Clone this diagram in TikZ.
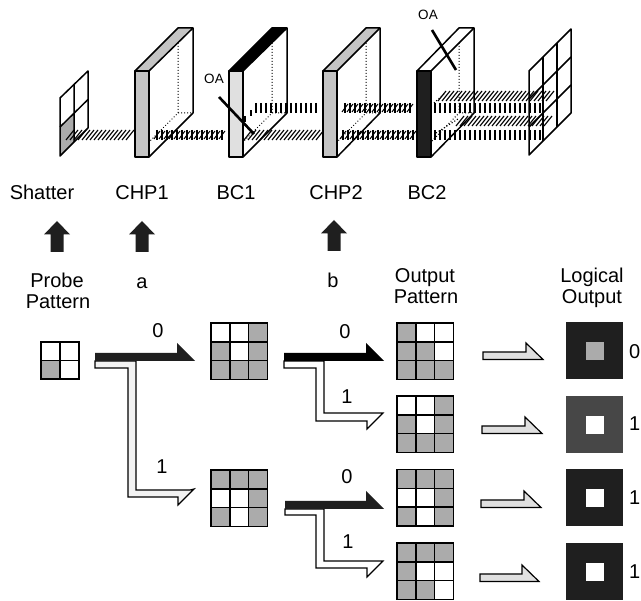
\documentclass[tikz,border=0pt]{standalone}
\usepackage{fontspec}
\setmainfont{Liberation Sans}
\definecolor{stip}{gray}{0.67}
\definecolor{stipf}{gray}{0.77}
\definecolor{stipl}{gray}{0.88}
\definecolor{stipw}{gray}{0.95}
\definecolor{dark}{gray}{0.12}
\newcommand{\hatchS}[3]{\foreach \hx in {#1,\the\numexpr#1+4\relax,...,#2}{\draw[line width=1.1pt] (\hx-4,#3+5) -- (\hx+4,#3-5);}}
\newcommand{\hatchB}[3]{\foreach \hx in {#1,\the\numexpr#1+5\relax,...,#2}{\draw[line width=1.9pt] (\hx,#3-5) -- (\hx,#3+5);}}
\newcommand{\hatchD}[3]{\foreach \hx in {#1,\the\numexpr#1+5\relax,...,#2}{\draw[line width=1.2pt] (\hx,#3-5) -- (\hx,#3+5); \draw[line width=1pt] (\hx-3,#3+4) -- (\hx+3,#3-4);}}
% grid: x y cells (column/row gray cells)
\newcommand{\gridT}[3]{%
 \begin{scope}[shift={(#1,#2)}]
 \fill[white] (0,0) rectangle (56.5,56.5);
 \foreach \cc/\rr in {#3}{\fill[stip] (\cc*18.83,\rr*18.83) rectangle ++(18.83,18.83);}
 \draw[cellline] (0,0) rectangle (56.5,56.5);
 \draw[cellline] (18.83,0) -- (18.83,56.5) (37.67,0) -- (37.67,56.5) (0,18.83) -- (56.5,18.83) (0,37.67) -- (56.5,37.67);
 \end{scope}}
\newcommand{\boxP}[5]{% x of front-left, top fill, front fill, back-left x, back-right x
 \fill[white] (#1+14,71) -- (#4,28) -- (#5,28) -- (#5,113) -- (#1+14,157) -- cycle;
 \draw[hidden] (#4,28) -- (#4,113) -- (#1+14,142) (#4,113) -- (#5,113);
 \draw[panel] (#1+14,157) -- (#5,113) -- (#5,28);
}
\newcommand{\boxF}[5]{%
 \filldraw[panel,fill=#2] (#1,71) -- (#4,28) -- (#5,28) -- (#1+14,71) -- cycle;
 \filldraw[panel,fill=#3] (#1,71) rectangle (#1+14,157);
}
\newcommand{\logicalOut}[4]{% y, outer, inner, unused
 \fill[#2] (566,#1) rectangle (623,#1+57);
 \fill[#3] (586,#1+20) rectangle (604,#1+38);
}
\newcommand{\smallArrow}[3]{% x start, y top shaft, tip x
 \filldraw[arrowline,fill=stipl] (#1,#2) -- (#3-17,#2) -- (#3-17,#2-9) -- (#3,#2+7.5) -- (#1,#2+7.5) -- cycle;
}
\newcommand{\upArrow}[3]{% center x, tip y, color unused
 \fill[dark] (#1,#2) -- (#1+13,#2+13.5) -- (#1+6.5,#2+13.5) -- (#1+6.5,#2+31) -- (#1-6.5,#2+31) -- (#1-6.5,#2+13.5) -- (#1-13,#2+13.5) -- cycle;
}
\tikzset{
 panel/.style={line width=1.5pt,line join=round},
 hidden/.style={line width=1pt,dotted},
 cellline/.style={line width=1.5pt},
 arrowline/.style={line width=1.2pt,line join=miter},
 lbl/.style={font=\fontsize{20}{22}\selectfont,anchor=base,inner sep=0pt},
 endlbl/.style={font=\fontsize{20}{22}\selectfont,anchor=base east,inner sep=0pt},
 oalbl/.style={font=\fontsize{13.5}{15}\selectfont,anchor=center,inner sep=0pt},
 oaline/.style={line width=2.6pt},
}
\begin{document}
\begin{tikzpicture}[x=1pt,y=-1pt]
\useasboundingbox (0,0) rectangle (641,601);
\fill[white] (0,0) rectangle (641,601);

% shutter
\fill[stip] (60,127) -- (74,113.5) -- (74,142.5) -- (60,156) -- cycle;
\draw[panel] (60,98) -- (88,71) -- (88,128) -- (60,156) -- cycle;
\draw[panel] (74,84.5) -- (74,142) (60,127) -- (88,99.5);

% output screen
\draw[panel] (529,71) -- (571,29) -- (571,113) -- (529,155) -- cycle;
\draw[panel] (543,57) -- (543,141) (557,43) -- (557,127);
\draw[panel] (529,99) -- (571,57) (529,127) -- (571,85);

% boxes back parts
\boxP{135}{stip}{stip}{178}{193}
\boxP{229}{black}{stipl}{272}{287}
\boxP{323}{stip}{stip}{366}{380}
\boxP{417}{white}{dark}{459}{474}

% beams
\hatchS{70}{133}{135}
\hatchD{157}{226}{135}
\hatchS{248}{320}{135}
\hatchD{343}{414}{135}
\hatchB{256}{320}{108}
\draw[line width=1.9pt] (245,122) -- (245,116) (251,116) -- (251,110);
\hatchD{345}{414}{108}
\hatchB{435}{540}{108}
\hatchB{435}{540}{135}
\hatchS{442}{550}{96}
\hatchS{460}{550}{121}
\draw[line width=1.1pt,dotted] (434,103) -- (444,94) (436,133) -- (458,119);

% boxes front parts
\boxF{135}{stipf}{stipf}{178}{193}
\boxF{229}{black}{stipl}{272}{287}
\boxF{323}{stipf}{stipf}{366}{380}
\boxF{417}{white}{dark}{459}{474}

% optical axes
\draw[oaline] (219,97) -- (254,134);
\draw[oaline] (432,30) -- (456,70);
\node[oalbl] (oa1) at (214,79) {OA};
\node[oalbl] (oa2) at (428,15) {OA};

% labels
\node[lbl] (shatter) at (42,200) {Shatter};
\node[lbl] (chp1) at (142,200) {CHP1};
\node[lbl] (bc1) at (236,200) {BC1};
\node[lbl] (chp2) at (336,200) {CHP2};
\node[lbl] (bc2) at (427,200) {BC2};
\upArrow{57}{221}{}
\upArrow{142}{221}{}
\upArrow{334}{220}{}
\node[lbl] (probe) at (57,288) {Probe};
\node[lbl] (pattern) at (58,309) {Pattern};
\node[lbl] (a) at (142,289) {a};
\node[lbl] (b) at (333,288) {b};
\node[lbl] (output) at (425,283) {Output};
\node[lbl] (outpat) at (426,304) {Pattern};
\node[lbl] (logical) at (592,283) {Logical};
\node[lbl] (logout) at (592,304) {Output};

% probe pattern
\fill[stip] (41,360.5) rectangle (60,379);
\draw[cellline] (41,342) rectangle (79,379) (60,342) -- (60,379) (41,360.5) -- (79,360.5);

% branch arrows
\filldraw[arrowline,fill=stipw] (95,361) -- (136,361) -- (136,490) -- (190,490) -- (194,489) -- (178,505) -- (178,497) -- (128,497) -- (128,368) -- (95,368) -- cycle;
\fill[dark] (95,353) -- (177,353) -- (177,343) -- (195,361) -- (95,361) -- cycle;
\draw[arrowline,fill=white] (284,361) -- (324,361) -- (324,413) -- (383,413) -- (367,429) -- (367,421) -- (316,421) -- (316,368) -- (284,368) -- cycle;
\fill[black] (284,353) -- (366,353) -- (366,343) -- (384,361) -- (284,361) -- cycle;
\draw[arrowline,fill=white] (285,509) -- (324,509) -- (324,561) -- (383,561) -- (367,577) -- (367,568) -- (316,568) -- (316,515) -- (285,515) -- cycle;
\fill[dark] (285,501) -- (366,501) -- (366,491) -- (384,509) -- (285,509) -- cycle;

\node[lbl] (l0a) at (158,338) {0};
\node[lbl] (l1a) at (162,474) {1};
\node[lbl] (l0b) at (345,339) {0};
\node[lbl] (l1b) at (347,404) {1};
\node[lbl] (l0c) at (347,484) {0};
\node[lbl] (l1c) at (348,549) {1};

% grids
\gridT{211}{323}{2/0,0/1,2/1,0/2,1/2,2/2}
\gridT{211}{470}{0/0,1/0,2/0,2/1,0/2,2/2}
\gridT{397}{323}{0/0,0/1,1/1,0/2,1/2,2/2}
\gridT{397}{396}{2/0,0/1,2/1,0/2,1/2,2/2}
\gridT{397}{469.5}{0/0,1/0,2/0,2/1,0/2,2/2}
\gridT{397}{543}{0/0,1/0,2/0,0/1,0/2,1/2}

% small arrows
\smallArrow{483}{352}{543}
\smallArrow{482}{426}{542}
\smallArrow{481}{500}{541}
\smallArrow{480}{574}{539}

% logical output
\logicalOut{322}{dark}{stip}{}
\logicalOut{396}{black!72}{white}{}
\logicalOut{469}{dark}{white}{}
\logicalOut{543}{dark}{white}{}
\node[endlbl] (o0) at (640.5,359) {0};
\node[endlbl] (o1) at (640.5,431) {1};
\node[endlbl] (o2) at (640.5,505) {1};
\node[endlbl] (o3) at (640.5,579) {1};
\end{tikzpicture}
\end{document}
